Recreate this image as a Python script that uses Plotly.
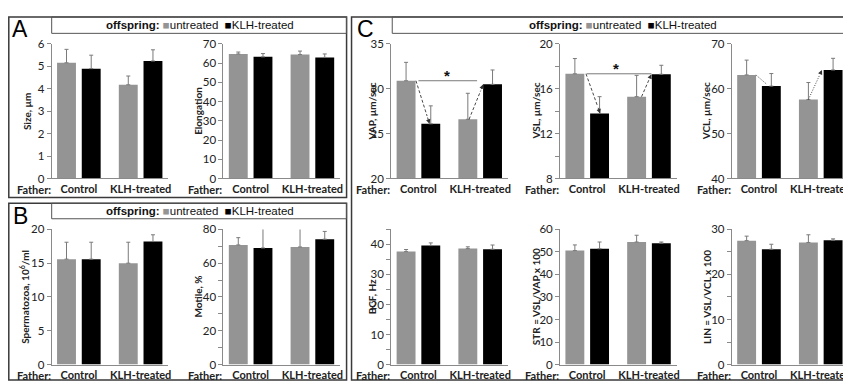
import plotly.graph_objects as go

W, H = 851, 387          # target picture size
OX, OY = 8, 8            # page body margin of the html page
FW, FH = W - OX, H - OY  # figure size so that it fills the window exactly

# ---------------- data ----------------
categories = ["Control", "KLH-treated"]          # father groups
offspring_groups = ["untreated", "KLH-treated"]  # offspring groups

size_untreated = [5.16, 4.18]
size_untreated_err = [0.60, 0.39]
size_klh = [4.90, 5.24]
size_klh_err = [0.60, 0.50]

elong_untreated = [64.8, 64.5]
elong_untreated_err = [1.0, 1.8]
elong_klh = [63.3, 63.0]
elong_klh_err = [1.7, 1.8]

sperm_untreated = [15.6, 15.0]
sperm_untreated_err = [2.5, 3.1]
sperm_klh = [15.6, 18.2]
sperm_klh_err = [2.5, 1.0]

motile_untreated = [70.8, 69.6]
motile_untreated_err = [4.3, 11.4]
motile_klh = [69.0, 74.2]
motile_klh_err = [11.5, 4.6]

vap_untreated = [30.9, 26.6]
vap_untreated_err = [2.05, 2.9]
vap_klh = [26.1, 30.5]
vap_klh_err = [2.0, 1.6]

vsl_untreated = [17.34, 15.3]
vsl_untreated_err = [1.36, 1.9]
vsl_klh = [13.8, 17.3]
vsl_klh_err = [1.5, 0.8]

vcl_untreated = [63.1, 57.6]
vcl_untreated_err = [3.3, 3.8]
vcl_klh = [60.6, 64.2]
vcl_klh_err = [2.8, 2.6]

bcf_untreated = [37.6, 38.6]
bcf_untreated_err = [0.7, 0.6]
bcf_klh = [39.6, 38.4]
bcf_klh_err = [0.9, 1.4]

str_untreated = [50.6, 54.4]
str_untreated_err = [2.5, 3.0]
str_klh = [51.4, 53.9]
str_klh_err = [3.0, 0.5]

lin_untreated = [27.5, 27.1]
lin_untreated_err = [1.0, 1.7]
lin_klh = [25.6, 27.6]
lin_klh_err = [1.1, 0.3]

# ---------------- style ----------------
GRAY = "#949494"
BLACK = "#000000"
AXC = "#8a8a8a"
TXT = "#222222"
FONT = "Lato"
LEG_FONT = "Liberation Sans"
PX_PER_CAT = 62.2
XR0 = -0.44

TOP = (38, 177.3)
BOT = (230, 370)

panels = [
    dict(u=size_untreated, ue=size_untreated_err, k=size_klh, ke=size_klh_err,
         x=(52, 169), y=TOP, yr=[0, 6], dt=1, minor=None, title="Size, µm", tx=27),
    dict(u=elong_untreated, ue=elong_untreated_err, k=elong_klh, ke=elong_klh_err,
         x=(225, 342), y=TOP, yr=[0, 70], dt=10, minor=None, title="Elongation", tx=200),
    dict(u=sperm_untreated, ue=sperm_untreated_err, k=sperm_klh, ke=sperm_klh_err,
         x=(52, 169), y=BOT, yr=[0, 20], dt=5, minor=None, title="Spermatozoa, 10<sup>6</sup>/ml", tx=25),
    dict(u=motile_untreated, ue=motile_untreated_err, k=motile_klh, ke=motile_klh_err,
         x=(225, 342), y=BOT, yr=[0, 80], dt=20, minor=10, title="Motile, %", tx=199),
    dict(u=vap_untreated, ue=vap_untreated_err, k=vap_klh, ke=vap_klh_err,
         x=(394, 512), y=TOP, yr=[20, 35], dt=5, minor=None, title="VAP, µm/sec", tx=375),
    dict(u=vsl_untreated, ue=vsl_untreated_err, k=vsl_klh, ke=vsl_klh_err,
         x=(564, 682), y=TOP, yr=[8, 20], dt=4, minor=2, title="VSL, µm/sec", tx=540),
    dict(u=vcl_untreated, ue=vcl_untreated_err, k=vcl_klh, ke=vcl_klh_err,
         x=(737, 851), y=TOP, yr=[40, 70], dt=10, minor=None, title="VCL, µm/sec", tx=711),
    dict(u=bcf_untreated, ue=bcf_untreated_err, k=bcf_klh, ke=bcf_klh_err,
         x=(394, 512), y=BOT, yr=[0, 45], dt=10, minor=5, title="BCF, Hz", tx=375),
    dict(u=str_untreated, ue=str_untreated_err, k=str_klh, ke=str_klh_err,
         x=(564, 682), y=BOT, yr=[0, 60], dt=10, minor=None, title="STR = VSL/VAP x 100", tx=540),
    dict(u=lin_untreated, ue=lin_untreated_err, k=lin_klh, ke=lin_klh_err,
         x=(737, 851), y=BOT, yr=[0, 30], dt=10, minor=5, title="LIN = VSL/VCL x 100", tx=712),
]

fig = go.Figure()
layout = dict(
    width=FW, height=FH, margin=dict(l=0, r=0, t=0, b=0),
    paper_bgcolor="white", plot_bgcolor="white",
    barmode="group", bargap=0.2, bargroupgap=0.235,
    showlegend=False,
    font=dict(family=FONT, size=11, color=TXT),
)
annotations = []
shapes = []


def px(xp):
    return (xp - OX) / FW


def py(yp):
    return 1 - (yp - OY) / FH


for i, p in enumerate(panels, start=1):
    xa, ya = f"x{i}", f"y{i}"
    for vals, errs, col, name in ((p["u"], p["ue"], GRAY, offspring_groups[0]),
                                  (p["k"], p["ke"], BLACK, offspring_groups[1])):
        fig.add_trace(go.Bar(
            x=categories, y=vals, name=name, marker=dict(color=col, line=dict(width=0)),
            error_y=dict(type="data", array=errs, arrayminus=[0] * len(errs), symmetric=False,
                         color="#7a7a7a", thickness=1, width=2),
            xaxis=xa, yaxis=ya, offsetgroup=name,
        ))
    x0, x1 = p["x"]
    y0, y1 = p["y"]
    layout[f"xaxis{i}"] = dict(
        domain=[px(x0), min(1.0, px(x1))], anchor=ya, type="category",
        range=[XR0, XR0 + (min(x1, W) - x0) / PX_PER_CAT],
        showline=True, linecolor=AXC, linewidth=1, ticks="", ticklen=0, showgrid=False,
        zeroline=False, fixedrange=True,
        tickfont=dict(family=FONT, size=11, color=TXT, weight="bold"),
    )
    yax = dict(
        domain=[py(y1), py(y0)], anchor=xa, range=p["yr"], dtick=p["dt"], tick0=0,
        showline=True, linecolor=AXC, linewidth=1, ticks="outside", ticklen=4,
        tickcolor=AXC, showgrid=False, zeroline=False,
        tickfont=dict(family=FONT, size=11.5, color=TXT),
    )
    if p["minor"]:
        yax["minor"] = dict(dtick=p["minor"], tick0=0, ticks="outside", ticklen=4,
                            tickcolor=AXC, showgrid=False)
    layout[f"yaxis{i}"] = yax
    # y axis title
    annotations.append(dict(
        text=f"<b>{p['title']}</b>", x=px(p["tx"]), y=py((y0 + y1) / 2), xref="paper", yref="paper",
        textangle=-90, showarrow=False, xanchor="center", yanchor="middle",
        font=dict(family=FONT, size=10, color=TXT)))
    # "Father:" label
    annotations.append(dict(
        text="<b>Father:</b>", x=px(x0 + 1), y=py(y1 + 11), xref="paper", yref="paper",
        showarrow=False, xanchor="right", yanchor="middle",
        font=dict(family=FONT, size=11, color=TXT)))

# significance lines and stars (VAP = panel 5, VSL = panel 6)
for i, (sx0, sx1, smid) in ((5, (0.0, 0.95, 0.47)), (6, (-0.01, 1.04, 0.46))):
    p = panels[i - 1]
    yv = p["u"][0]
    shapes.append(dict(type="line", xref=f"x{i}", yref=f"y{i}", x0=sx0, x1=sx1, y0=yv, y1=yv,
                       line=dict(color="#7a7a7a", width=1)))
    annotations.append(dict(text="<b>*</b>", x=smid, y=yv, xref=f"x{i}", yref=f"y{i}",
                            showarrow=False, yanchor="bottom", yshift=-5,
                            font=dict(family=LEG_FONT, size=15, color="#111")))

# dashed arrows from untreated offspring to KLH-treated offspring
arrow_specs = {
    5: ((-0.04, 0.18), (0.82, 1.05), "3px,2px"),
    6: ((-0.02, 0.21), (0.88, 1.04), "3px,2px"),
    7: ((-0.05, 0.16), (0.80, 1.02), "1px,1.5px"),
}
for i, (a1, a2, dash) in arrow_specs.items():
    p = panels[i - 1]
    for j, (xs, xe) in enumerate((a1, a2)):
        ys, ye = p["u"][j], p["k"][j]
        tx = xs + (xe - xs) * 0.82
        ty = ys + (ye - ys) * 0.82
        shapes.append(dict(type="line", xref=f"x{i}", yref=f"y{i}", x0=xs, y0=ys, x1=tx, y1=ty,
                           line=dict(color="#333", width=0.9, dash=dash)))
        annotations.append(dict(text="", x=xe, y=ye, ax=tx, ay=ty, xref=f"x{i}", yref=f"y{i}",
                                axref=f"x{i}", ayref=f"y{i}", showarrow=True, arrowhead=2,
                                arrowsize=1, arrowwidth=0.9, arrowcolor="#333", standoff=0))

# frames and legend boxes
FR = dict(color="#3a3a3a", width=1.5)
LB = dict(color="#555555", width=1)
for (a, b, c, d), ln in (((8.8, 10, 349, 197), FR), ((8.8, 203, 349, 386), FR), ((354, 10, 856, 386), FR),
                         ((52, 10, 349, 27), LB), ((52, 203, 349, 219), LB), ((395, 10, 856, 27), LB)):
    shapes.append(dict(type="rect", xref="paper", yref="paper", x0=px(a), x1=px(c), y0=py(d), y1=py(b),
                       line=ln, fillcolor="rgba(0,0,0,0)"))

legend_text = (f"<b>offspring:</b> <span style='color:{GRAY}'>■</span>{offspring_groups[0]}  "
               f"<span style='color:{BLACK}'>■</span>{offspring_groups[1]}")
for cx, cy in ((201, 18.5), (201, 211), (627, 18.5)):
    annotations.append(dict(text=legend_text, x=px(cx), y=py(cy), xref="paper", yref="paper",
                            showarrow=False, xanchor="center", yanchor="middle",
                            font=dict(family=LEG_FONT, size=11.5, color="#111")))

for letter, lx, ly in (("A", 10, 23), ("B", 11, 216), ("C", 357, 22)):
    annotations.append(dict(text=letter, x=px(lx), y=py(ly), xref="paper", yref="paper",
                            showarrow=False, xanchor="left", yanchor="middle",
                            font=dict(family=LEG_FONT, size=23, color="#000")))

layout["annotations"] = annotations
layout["shapes"] = shapes
fig.update_layout(**layout)
fig.write_html("out.html")
